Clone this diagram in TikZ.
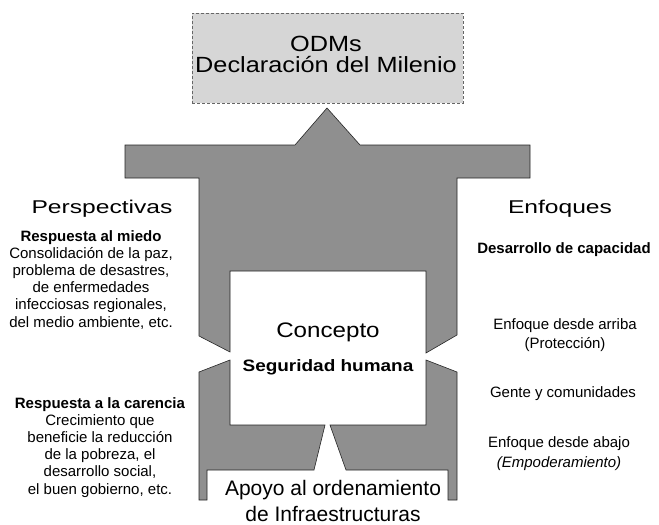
\documentclass[tikz,border=0pt]{standalone}
\usepackage{fontspec}
\setmainfont{Liberation Sans}
\newfontfamily\widefont[FakeStretch=1.15]{Liberation Sans}
\newfontfamily\headfont[FakeStretch=1.33]{Liberation Sans}
\usepackage{tikz}
\usetikzlibrary{positioning, calc}
\pgfdeclarelayer{background}
\pgfsetlayers{background,main}
\tikzset{
    figure/.style={draw=black!85, line width=0.6pt, fill=black!44, line join=miter},
    odmbox/.style={draw=black!60, densely dashed, line width=0.5pt, fill=black!16,
      minimum width=271pt, minimum height=90pt, inner sep=0pt},
    txt/.style={inner sep=0pt, anchor=north, align=center, font=\fontsize{15}{17.2}\selectfont},
    head/.style={inner sep=0pt, anchor=north, font=\headfont\fontsize{18.5}{22}\selectfont},
}

\begin{document}
\begin{tikzpicture}[x=1pt, y=-1pt]
    \useasboundingbox (0,0) rectangle (659,525);

    \node[odmbox] (odm) at (327.5,58) {};
    \node[txt, font=\widefont\fontsize{22}{21.5}\selectfont] (odmtxt) at (326,35.5) {ODMs\\Declaración del Milenio};

    \begin{pgfonlayer}{background}
      \draw[figure] (327,108) -- (360,145) -- (530,145) -- (530,178) -- (457,178) -- (457,335)
        -- (426,353) -- (426,271) -- (230,271) -- (230,352) -- (199,336) -- (199,178)
        -- (125,178) -- (125,145) -- (295,145) -- cycle;
      \draw[figure] (199,372) -- (230,360) -- (230,425) -- (325,425) -- (314,470)
        -- (207,470) -- (207,500) -- (199,500) -- cycle;
      \draw[figure] (457,372) -- (426,360) -- (426,425) -- (330,425) -- (346,470)
        -- (448,470) -- (448,500) -- (457,500) -- cycle;
    \end{pgfonlayer}

    \node[head] (persp) at (102,199.7) {Perspectivas};
    \node[head] (enfoq) at (560,199.5) {Enfoques};

    \node[txt] (miedo) at (91,230) {\textbf{Respuesta al miedo}\\Consolidación de la paz,\\problema de desastres,\\de enfermedades\\infecciosas regionales,\\del medio ambiente, etc.};
    \node[txt] (carencia) at (100,397) {\textbf{Respuesta a la carencia}\\Crecimiento que\\beneficie la reducción\\de la pobreza, el\\desarrollo social,\\el buen gobierno, etc.};

    \node[txt, font=\bfseries\fontsize{15}{17}\selectfont] (capac) at (564,242) {Desarrollo de capacidad};
    \node[txt, font=\fontsize{15}{19.5}\selectfont] (arriba) at (565,318) {Enfoque desde arriba\\(Protección)};
    \node[txt] (gente) at (563,386) {Gente y comunidades};
    \node[txt, font=\fontsize{15}{20}\selectfont] (abajo) at (559,436) {Enfoque desde abajo\\\textit{(Empoderamiento)}};

    \node[txt, font=\widefont\fontsize{21}{24}\selectfont] (concepto) at (328,322.7) {Concepto};
    \node[txt, font=\widefont\bfseries\fontsize{16.5}{19}\selectfont, below=17.5pt of concepto] (seguridad) {Seguridad humana};

    \node[txt, font=\fontsize{21}{26}\selectfont] (apoyo) at (333,479.7) {Apoyo al ordenamiento\\de Infraestructuras};
\end{tikzpicture}
\end{document}
